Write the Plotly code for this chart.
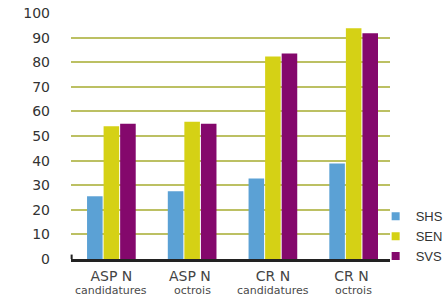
import plotly.graph_objects as go

categories = ["ASP N", "ASP N ", "CR N", "CR N "]
sub_labels = ["candidatures", "octrois", "candidatures", "octrois"]
series_names = ["SHS", "SEN", "SVS"]
shs = [25.5, 27.5, 32.7, 38.8]
sen = [54, 55.8, 82.3, 93.8]
svs = [55, 55, 83.5, 91.8]
colors = ["#5ba1d5", "#d5d115", "#84086c"]
y_ticks = [0, 10, 20, 30, 40, 50, 60, 70, 80, 90, 100]

fig = go.Figure()
for name, vals, col in zip(series_names, [shs, sen, svs], colors):
    fig.add_trace(go.Bar(name=name, x=categories, y=vals, marker_color=col,
                         marker_line_width=0, showlegend=False, legendgroup=name))
# legend entries with small square keys
for name, col in zip(series_names, colors):
    fig.add_trace(go.Scatter(name=name, x=[None], y=[None], mode="markers",
                             marker=dict(symbol="square", size=8, color=col),
                             legendgroup=name, showlegend=True))

for cat, sub in zip(categories, sub_labels):
    fig.add_annotation(x=cat, xref="x", y=-0.13, yref="paper", text=sub,
                       showarrow=False, yanchor="middle", xanchor="center",
                       font=dict(size=11, color="#4a4a4a"))

fig.update_layout(
    width=443, height=296,
    margin=dict(l=71, r=53, t=13, b=37, autoexpand=False),
    paper_bgcolor="white", plot_bgcolor="white",
    barmode="group", bargap=0.385, bargroupgap=0.06,
    font=dict(family="DejaVu Sans", color="#333333"),
    showlegend=True,
    legend=dict(x=0.955, xanchor="left", y=-0.05, yanchor="bottom",
                font=dict(size=13, family="Liberation Sans", color="#333333"),
                tracegroupgap=0, itemwidth=30, bgcolor="rgba(0,0,0,0)"),
    yaxis=dict(range=[0, 100], tickvals=y_ticks, showgrid=True,
               gridcolor="#bcc063", gridwidth=1.5, zeroline=False,
               showline=False, ticks="", ticklabelstandoff=20, automargin=False,
               tickfont=dict(size=14, color="#333333")),
    xaxis=dict(type="category", range=[-0.5, 3.45], showline=True,
               linecolor="#222222", linewidth=2.5, ticks="", automargin=False,
               tickfont=dict(size=14, color="#444444"), ticklabelstandoff=2),
)
fig.add_shape(type="line", xref="paper", yref="y", x0=0.002, x1=0.002, y0=0, y1=1.8,
              line=dict(color="#222222", width=2))
fig.write_html("out.html", post_script="document.body.style.margin='0';",
               config={"displayModeBar": False})
